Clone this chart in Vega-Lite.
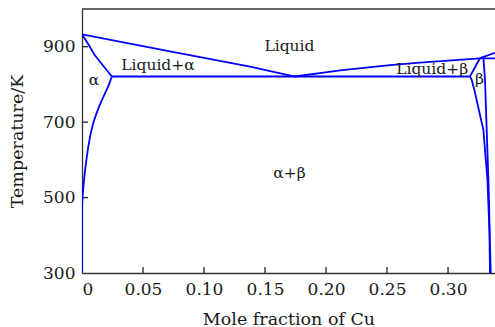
{
  "$schema": "https://vega.github.io/schema/vega-lite/v6.json",
  "autosize": {"type": "none"},
  "padding": {"left": 82, "top": 9, "right": 0, "bottom": 54},
  "width": 413,
  "height": 264,
  "background": "white",
  "config": {
    "view": {"stroke": null},
    "font": "DejaVu Serif",
    "axis": {
      "labelFont": "DejaVu Serif",
      "titleFont": "DejaVu Serif",
      "labelFontSize": 17,
      "titleFontSize": 17.5,
      "titleFontWeight": "normal",
      "labelColor": "#1a1a1a",
      "titleColor": "#1a1a1a",
      "domainColor": "#333333",
      "domainWidth": 1.3,
      "ticks": false,
      "tickSize": 0,
      "grid": false
    }
  },
  "datasets": {
    "curves": [
      {"curve": "liquidus_alpha", "i": 0, "x": 0.0, "T": 933},
      {"curve": "liquidus_alpha", "i": 1, "x": 0.07, "T": 889},
      {"curve": "liquidus_alpha", "i": 2, "x": 0.1377, "T": 847},
      {"curve": "liquidus_alpha", "i": 3, "x": 0.1746, "T": 821},

      {"curve": "solidus_alpha", "i": 0, "x": 0.0, "T": 933},
      {"curve": "solidus_alpha", "i": 1, "x": 0.0057, "T": 904},
      {"curve": "solidus_alpha", "i": 2, "x": 0.0104, "T": 878},
      {"curve": "solidus_alpha", "i": 3, "x": 0.0167, "T": 852},
      {"curve": "solidus_alpha", "i": 4, "x": 0.0245, "T": 821},

      {"curve": "solvus_alpha", "i": 0, "x": 0.0245, "T": 821},
      {"curve": "solvus_alpha", "i": 1, "x": 0.0215, "T": 795},
      {"curve": "solvus_alpha", "i": 2, "x": 0.018, "T": 770},
      {"curve": "solvus_alpha", "i": 3, "x": 0.0145, "T": 745},
      {"curve": "solvus_alpha", "i": 4, "x": 0.0115, "T": 720},
      {"curve": "solvus_alpha", "i": 5, "x": 0.009, "T": 695},
      {"curve": "solvus_alpha", "i": 6, "x": 0.0068, "T": 665},
      {"curve": "solvus_alpha", "i": 7, "x": 0.005, "T": 632},
      {"curve": "solvus_alpha", "i": 8, "x": 0.0036, "T": 600},
      {"curve": "solvus_alpha", "i": 9, "x": 0.0024, "T": 569},
      {"curve": "solvus_alpha", "i": 10, "x": 0.0013, "T": 535},
      {"curve": "solvus_alpha", "i": 11, "x": 0.0005, "T": 505},
      {"curve": "solvus_alpha", "i": 12, "x": 0.0001, "T": 480},
      {"curve": "solvus_alpha", "i": 13, "x": 0.0, "T": 450},
      {"curve": "solvus_alpha", "i": 14, "x": 0.0, "T": 300},

      {"curve": "eutectic", "i": 0, "x": 0.0245, "T": 821},
      {"curve": "eutectic", "i": 1, "x": 0.318, "T": 821},

      {"curve": "liquidus_beta", "i": 0, "x": 0.1746, "T": 821},
      {"curve": "liquidus_beta", "i": 1, "x": 0.2115, "T": 837},
      {"curve": "liquidus_beta", "i": 2, "x": 0.2525, "T": 851},
      {"curve": "liquidus_beta", "i": 3, "x": 0.2743, "T": 857},
      {"curve": "liquidus_beta", "i": 4, "x": 0.3, "T": 863},
      {"curve": "liquidus_beta", "i": 5, "x": 0.3262, "T": 869},
      {"curve": "liquidus_beta", "i": 6, "x": 0.3385, "T": 869},

      {"curve": "liquidus_upper", "i": 0, "x": 0.3262, "T": 870},
      {"curve": "liquidus_upper", "i": 1, "x": 0.3385, "T": 884},

      {"curve": "solidus_beta", "i": 0, "x": 0.318, "T": 821},
      {"curve": "solidus_beta", "i": 1, "x": 0.3262, "T": 870},

      {"curve": "solvus_beta_left", "i": 0, "x": 0.318, "T": 821},
      {"curve": "solvus_beta_left", "i": 1, "x": 0.3194, "T": 812},
      {"curve": "solvus_beta_left", "i": 2, "x": 0.3216, "T": 785},
      {"curve": "solvus_beta_left", "i": 3, "x": 0.329, "T": 679},
      {"curve": "solvus_beta_left", "i": 4, "x": 0.3323, "T": 547},
      {"curve": "solvus_beta_left", "i": 5, "x": 0.3339, "T": 414},
      {"curve": "solvus_beta_left", "i": 6, "x": 0.3344, "T": 300},

      {"curve": "solvus_beta_right", "i": 0, "x": 0.329, "T": 871},
      {"curve": "solvus_beta_right", "i": 1, "x": 0.3303, "T": 812},
      {"curve": "solvus_beta_right", "i": 2, "x": 0.3331, "T": 547},
      {"curve": "solvus_beta_right", "i": 3, "x": 0.335, "T": 300}
    ],
    "labels": [
      {"label": "Liquid", "x": 0.17, "T": 903},
      {"label": "Liquid+α", "x": 0.0623, "T": 851},
      {"label": "α", "x": 0.0098, "T": 812},
      {"label": "Liquid+β", "x": 0.287, "T": 841},
      {"label": "β", "x": 0.3257, "T": 815},
      {"label": "α+β", "x": 0.17, "T": 565}
    ],
    "frame": [{"T": 1000}],
    "xticks": [{"x": 0.05}, {"x": 0.1}, {"x": 0.15}, {"x": 0.2}, {"x": 0.25}, {"x": 0.3}],
    "yticks": [{"T": 500}, {"T": 700}, {"T": 900}]
  },
  "layer": [
    {
      "data": {"name": "frame"},
      "mark": {"type": "rule", "color": "#333333", "strokeWidth": 1.3},
      "encoding": {
        "y": {"field": "T", "type": "quantitative", "scale": {"domain": [300, 1000]}}
      }
    },
    {
      "data": {"name": "xticks"},
      "mark": {"type": "rule", "color": "#222222", "strokeWidth": 1.3},
      "encoding": {
        "x": {"field": "x", "type": "quantitative"},
        "y": {"datum": 300, "type": "quantitative"},
        "y2": {"datum": 316}
      }
    },
    {
      "data": {"name": "yticks"},
      "mark": {"type": "rule", "color": "#222222", "strokeWidth": 1.3},
      "encoding": {
        "y": {"field": "T", "type": "quantitative"},
        "x": {"datum": 0, "type": "quantitative"},
        "x2": {"datum": 0.0049}
      }
    },
    {
      "data": {"name": "curves"},
      "mark": {"type": "line", "color": "#0000ff", "strokeWidth": 1.8, "clip": true},
      "encoding": {
        "x": {
          "field": "x", "type": "quantitative",
          "scale": {"domain": [0, 0.3385], "nice": false, "zero": false},
          "axis": {
            "title": "Mole fraction of Cu",
            "values": [0, 0.05, 0.1, 0.15, 0.2, 0.25, 0.3],
            "labelExpr": "datum.value == 0 ? '0' : format(datum.value, '.2f')",
            "labelPadding": 8,
            "titlePadding": 13
          }
        },
        "y": {
          "field": "T", "type": "quantitative",
          "scale": {"domain": [300, 1000], "nice": false, "zero": false},
          "axis": {
            "title": "Temperature/K",
            "values": [300, 500, 700, 900],
            "labelPadding": 7,
            "titlePadding": 16
          }
        },
        "detail": {"field": "curve"},
        "order": {"field": "i", "type": "quantitative"}
      }
    },
    {
      "data": {"name": "labels"},
      "mark": {"type": "text", "font": "DejaVu Serif", "fontSize": 15.5, "color": "#1a1a1a", "align": "center", "baseline": "middle"},
      "encoding": {
        "x": {"field": "x", "type": "quantitative"},
        "y": {"field": "T", "type": "quantitative"},
        "text": {"field": "label"}
      }
    }
  ]
}
